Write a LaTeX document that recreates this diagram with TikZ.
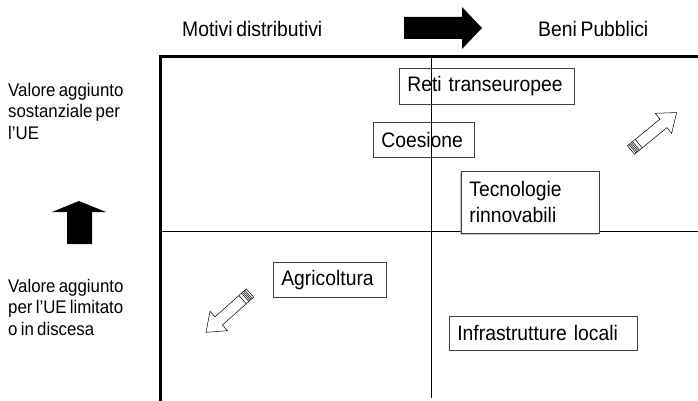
\documentclass[tikz,border=0pt]{standalone}
\usepackage{fontspec}
\setmainfont[FakeStretch=0.92, WordSpace=0.7]{Liberation Sans}
\usetikzlibrary{shadows}

\begin{document}
\begin{tikzpicture}[%
            x=1pt, y=-1pt,
            axis/.style={line width=3pt},
            divider/.style={line width=0.8pt},
            heading/.style={%
            	font=\fontsize{21}{24}\selectfont,
            	inner sep=0pt,
            	anchor=base west
            },
            side/.style={%
            	font=\fontsize{18.3}{21.5}\selectfont,
            	align=left,
            	inner sep=0pt,
            	anchor=west
            },
            policy/.style={%
            	rectangle,
            	draw=black!75,
            	line width=0.7pt,
            	inner xsep=8pt,
            	inner ysep=0pt,
            	align=left,
            	anchor=north west,
            	font=\fontsize{21}{26}\selectfont
            },
            hollow/.style={draw, line width=0.5pt, fill=white}
            ]
            \useasboundingbox (0,0) rectangle (698,401);

            % frame and quadrants
            \coordinate (tl) at (160,57);
            \coordinate (bl) at (160,401);
            \coordinate (tr) at (698,57);
            \coordinate (midtop) at (431,57);
            \coordinate (midbot) at (431,398);
            \coordinate (midleft) at (160,231);
            \coordinate (midright) at (698,231);
            \draw[divider] (midtop) -- (midbot);
            \draw[divider] (midleft) -- (midright);
            \draw[axis] (bl) -- (tl) -- (tr);

            % headings
            \node[heading] (motivi) at (182,37) {Motivi distributivi};
            \node[heading] (beni) at (538,37) {Beni Pubblici};
            \node[side] (alto) at (8,111) {Valore aggiunto\\sostanziale per\\l'UE};
            \node[side] (basso) at (8,307) {Valore aggiunto\\per l'UE limitato\\o in discesa};

            % solid arrows
            \fill (404,17) -- (462,17) -- (462,7) -- (482,28) -- (462,49) -- (462,39) -- (404,39) -- cycle;
            \fill (67,244) -- (67,212) -- (52,212) -- (79,201) -- (106,212) -- (92,212) -- (92,244) -- cycle;

            % policy boxes
            \node[policy, text width=159pt, minimum height=36pt] (reti) at (399,68) {Reti transeuropee};
            \node[policy, text width=85pt, minimum height=35pt] (coesione) at (373,122) {Coesione};
            \node[policy, text width=122pt, minimum height=62pt, fill=white,
                  drop shadow={shadow xshift=-1.5pt, shadow yshift=-1.5pt, fill=black!45}] (tecnologie) at (461,171) {Tecnologie\\rinnovabili};
            \node[policy, text width=97pt, minimum height=35pt] (agricoltura) at (273,262) {Agricoltura};
            \node[policy, text width=172pt, minimum height=34pt] (infrastrutture) at (449,316) {Infrastrutture locali};

            % hollow arrows
            \foreach \px/\py/\ang in {631/150/39.4, 250/293/221.8} {
            	\begin{scope}[shift={(\px,\py)}, rotate=\ang]
            		\draw[hollow] (0,-5.5) -- (42,-5.5) -- (42,-13) -- (59,0) -- (42,13) -- (42,5.5) -- (0,5.5) -- cycle;
            		\foreach \s in {2,3.5,5,6.5,10}
            			\draw[line width=0.5pt] (\s,-5.5) -- (\s,5.5);
            	\end{scope}
            }
\end{tikzpicture}
\end{document}
